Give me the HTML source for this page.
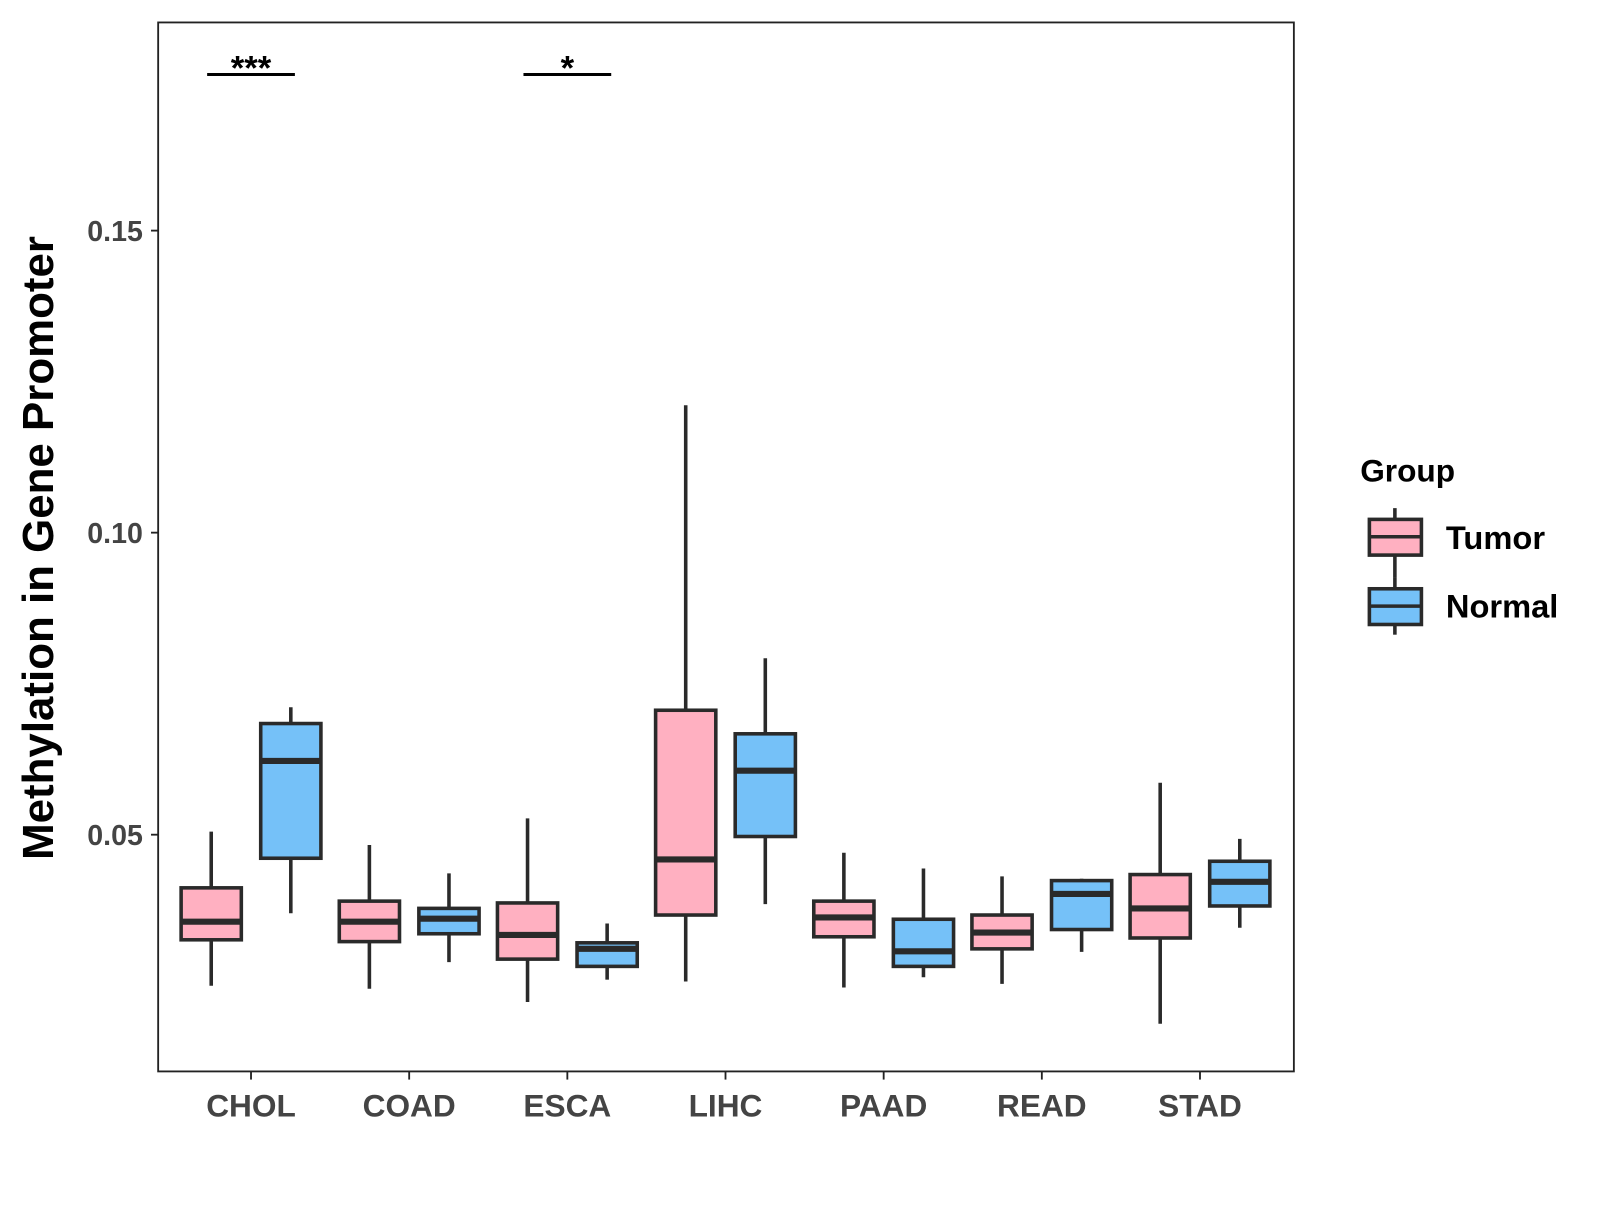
<!DOCTYPE html>
<html><head><meta charset="utf-8"><style>
html,body{margin:0;padding:0;background:#fff;}
svg text{font-family:"Liberation Sans",Arial,sans-serif;font-weight:bold;}
</style></head><body>
<svg id="chart" width="1600" height="1200" xmlns="http://www.w3.org/2000/svg">
<rect x="0" y="0" width="1600" height="1200" fill="#fff"/>
<g transform="scale(1.0204)">
<g id="marks"></g>
<rect x="155" y="22" width="1113" height="1028" fill="none" stroke="#222" stroke-width="1.8"/>
<text x="52" y="537" font-size="43" fill="#000" text-anchor="middle" transform="rotate(-90 52 537)">Methylation in Gene Promoter</text>
<g>
<text x="1333" y="472" font-size="31" fill="#000">Group</text>
<g>
<line x1="1367" y1="498" x2="1367" y2="566" stroke="#2a2a2a" stroke-width="3.5"/>
<rect x="1342" y="509" width="51" height="35" fill="#FFB0C1" stroke="#2a2a2a" stroke-width="3.5"/>
<line x1="1342" y1="526" x2="1393" y2="526" stroke="#2a2a2a" stroke-width="3.5"/>
<text x="1417" y="538" font-size="32" fill="#000">Tumor</text>
</g>
<g>
<line x1="1367" y1="566" x2="1367" y2="622" stroke="#2a2a2a" stroke-width="3.5"/>
<rect x="1342" y="577" width="51" height="35" fill="#75C1F8" stroke="#2a2a2a" stroke-width="3.5"/>
<line x1="1342" y1="594" x2="1393" y2="594" stroke="#2a2a2a" stroke-width="3.5"/>
<text x="1417" y="605" font-size="32" fill="#000">Normal</text>
</g>
</g>
</g>
</svg>
<script>
const categories=["CHOL","COAD","ESCA","LIHC","PAAD","READ","STAD"];
const yTicks=[0.05,0.10,0.15];
const yTickLabels=["0.05","0.10","0.15"];
// [whiskerLow, q1, median, q3, whiskerHigh]
const tumorStats=[[0.025,0.0326,0.0356,0.0412,0.0505],[0.0245,0.0323,0.0356,0.039,0.0483],[0.0223,0.0294,0.0334,0.0387,0.0527],[0.0257,0.0367,0.0459,0.0706,0.1211],[0.0247,0.0331,0.0363,0.039,0.047],[0.0253,0.0311,0.0338,0.0367,0.0431],[0.0187,0.0329,0.0378,0.0434,0.0586]];
const normalStats=[[0.037,0.0461,0.0622,0.0684,0.0711],[0.0289,0.0336,0.0361,0.0378,0.0436],[0.026,0.0282,0.0311,0.0321,0.0353],[0.0385,0.0497,0.0606,0.0667,0.0792],[0.0264,0.0282,0.0307,0.036,0.0444],[0.0306,0.0343,0.0402,0.0424,0.0427],[0.0346,0.0382,0.0422,0.0456,0.0493]];
const sigCategories=["CHOL","ESCA"];
const sigLabels=["***","*"];

const NS="http://www.w3.org/2000/svg";
const g=document.getElementById('marks');
function yScale(v){return 818-(v-0.05)*5920;}
function xScale(c){return 246+categories.indexOf(c)*155;}
function mk(tag,attrs,parent){const e=document.createElementNS(NS,tag);for(const k in attrs)e.setAttribute(k,attrs[k]);(parent||g).appendChild(e);return e;}

yTicks.forEach((t,i)=>{
  const y=yScale(t);
  const tk=mk('line',{x1:148,x2:155,y1:y,y2:y,stroke:'#222','stroke-width':1.8});
  
  
  const tx=mk('text',{x:140,y:y+10,'font-size':28,fill:'#444','text-anchor':'end'});
  tx.textContent=yTickLabels[i];
  
  
});
categories.forEach(c=>{
  const x=xScale(c);
  const tk=mk('line',{x1:x,x2:x,y1:1050,y2:1058,stroke:'#222','stroke-width':1.8});
  
  
  const tx=mk('text',{x:x,y:1094,'font-size':31,fill:'#444','text-anchor':'middle'});
  tx.textContent=c;
  
  
});
function drawBox(s,cx,fill,name){
  const grp=mk('g',{});
  
  
  const w=59;
  mk('line',{x1:cx,x2:cx,y1:yScale(s[0]),y2:yScale(s[4]),stroke:'#2a2a2a','stroke-width':3.5},grp);
  mk('rect',{x:cx-w/2,y:yScale(s[3]),width:w,height:yScale(s[1])-yScale(s[3]),fill:fill,stroke:'#2a2a2a','stroke-width':3.5},grp);
  mk('line',{x1:cx-w/2,x2:cx+w/2,y1:yScale(s[2]),y2:yScale(s[2]),stroke:'#2a2a2a','stroke-width':6},grp);
}
categories.forEach((c,i)=>{
  drawBox(tumorStats[i],xScale(c)-39,'#FFB0C1','box-tumor-'+c.toLowerCase());
  drawBox(normalStats[i],xScale(c)+39,'#75C1F8','box-normal-'+c.toLowerCase());
});
sigCategories.forEach((c,i)=>{
  const x=xScale(c);
  const ln=mk('line',{x1:x-43,x2:x+43,y1:73,y2:73,stroke:'#000','stroke-width':3});
  
  
  const tx=mk('text',{x:x,y:78,'font-size':34,fill:'#000','text-anchor':'middle'});
  tx.textContent=sigLabels[i];
  
  
});
</script>
</body></html>
